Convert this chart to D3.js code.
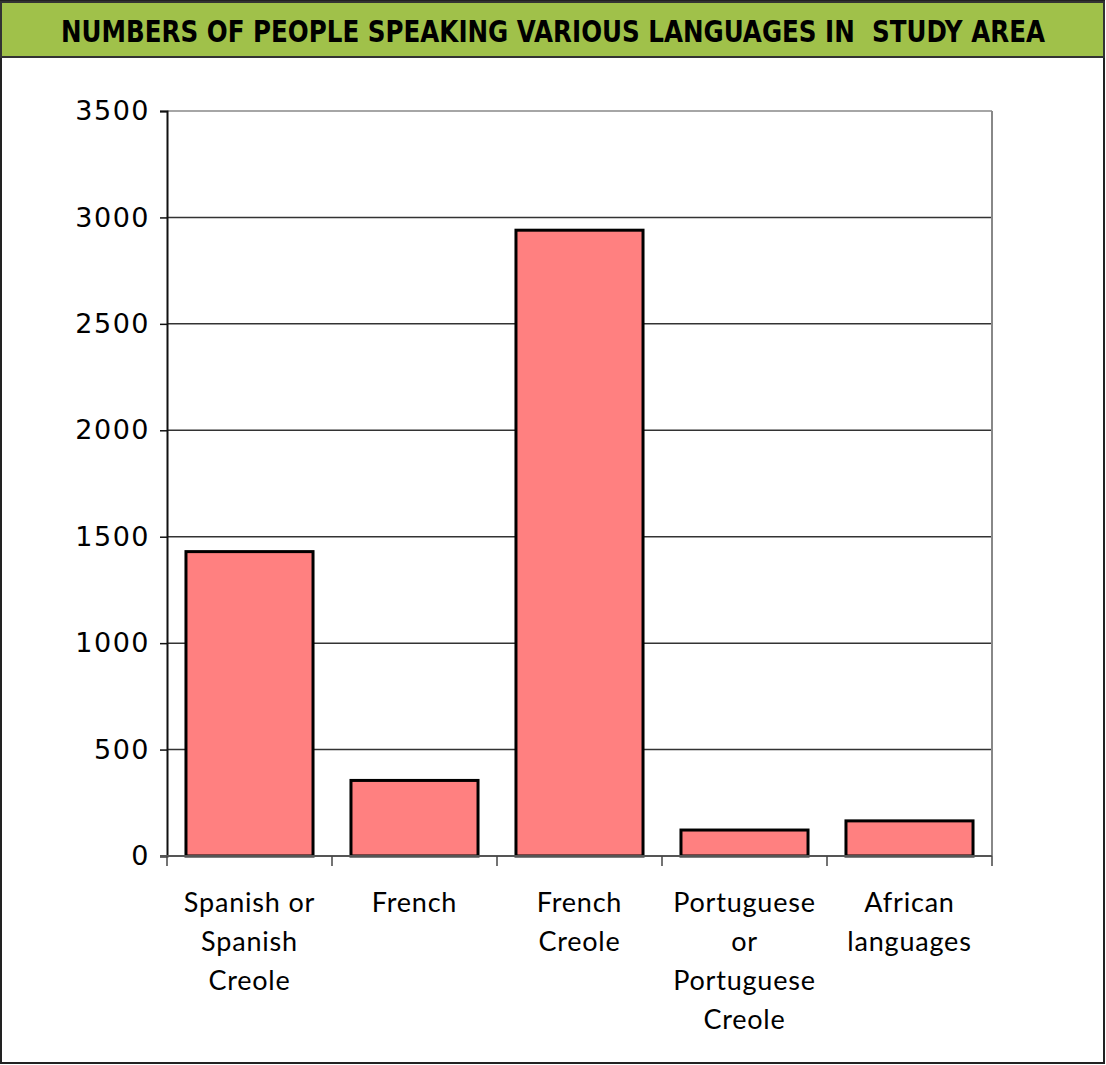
<!DOCTYPE html>
<html>
<head>
<meta charset="utf-8">
<script src="https://cdn.jsdelivr.net/npm/d3@7"></script>
<style>
  body { margin: 0; background: #fff; }
  svg { display: block; }
  text { font-family: "Lato", "DejaVu Sans", sans-serif; }
</style>
</head>
<body>
<script>
var categories = [
  ['Spanish or', 'Spanish', 'Creole'],
  ['French'],
  ['French', 'Creole'],
  ['Portuguese', 'or', 'Portuguese', 'Creole'],
  ['African', 'languages']
];
var values = [1430, 355, 2940, 122, 165];
var yTicks = [0, 500, 1000, 1500, 2000, 2500, 3000, 3500];
var title = 'NUMBERS OF PEOPLE SPEAKING VARIOUS LANGUAGES IN  STUDY AREA';

var width = 1106, height = 1065;
var margin = {left: 167, right: 114, top: 111, bottom: 209};

var svg = d3.select('body').append('svg')
  .attr('width', width)
  .attr('height', height);

// outer frame
svg.append('rect')
  .attr('x', 1).attr('y', 1)
  .attr('width', width - 3).attr('height', height - 3)
  .attr('fill', '#fff')
  .attr('stroke', '#222')
  .attr('stroke-width', 2);

// title bar
svg.append('rect')
  .attr('x', 1).attr('y', 2)
  .attr('width', width - 3).attr('height', 55)
  .attr('fill', '#a0c14a')
  .attr('stroke', '#333')
  .attr('stroke-width', 2);

// condensed bold title, stretched a little vertically
svg.append('text')
  .attr('transform', 'scale(1,1.2)')
  .attr('x', width / 2)
  .attr('y', 35)
  .attr('text-anchor', 'middle')
  .attr('font-size', 25)
  .attr('font-weight', 'bold')
  .attr('textLength', 984)
  .attr('lengthAdjust', 'spacingAndGlyphs')
  .style('font-family', '"DejaVu Sans Condensed", "DejaVu Sans", sans-serif')
  .style('white-space', 'pre')
  .text(title);

var x = d3.scaleBand()
  .domain(d3.range(categories.length))
  .range([margin.left, width - margin.right])
  .paddingInner(0.23)
  .paddingOuter(0.115);

var y = d3.scaleLinear()
  .domain([0, 3500])
  .range([height - margin.bottom, margin.top]);

var g = svg.append('g');

// gridlines
g.selectAll('line.grid')
  .data(yTicks.slice(1))
  .enter().append('line')
  .attr('class', 'grid')
  .attr('x1', margin.left)
  .attr('x2', width - margin.right)
  .attr('y1', d => y(d))
  .attr('y2', d => y(d))
  .attr('stroke', d => d === 3500 ? '#888' : '#333')
  .attr('stroke-width', 1.5);

// right border of plot
g.append('line')
  .attr('x1', width - margin.right).attr('x2', width - margin.right)
  .attr('y1', margin.top).attr('y2', y(0))
  .attr('stroke', '#888')
  .attr('stroke-width', 2);

// bars
g.selectAll('rect.bar')
  .data(values)
  .enter().append('rect')
  .attr('class', 'bar')
  .attr('x', (d, i) => x(i))
  .attr('y', d => y(d))
  .attr('width', x.bandwidth())
  .attr('height', d => y(0) - y(d))
  .attr('fill', '#ff8080')
  .attr('stroke', '#000')
  .attr('stroke-width', 3);

// y axis
var yAxis = d3.axisLeft(y)
  .tickValues(yTicks)
  .tickSize(7)
  .tickPadding(10)
  .tickFormat(d3.format('d'));

var ya = svg.append('g')
  .attr('transform', `translate(${margin.left},0)`)
  .call(yAxis);
ya.select('.domain').attr('stroke', '#111').attr('stroke-width', 2);
ya.selectAll('.tick line').attr('stroke', '#111').attr('stroke-width', 1.5);
ya.selectAll('.tick text')
  .attr('font-size', 27)
  .attr('fill', '#000')
  .attr('letter-spacing', 1.5)
  .style('font-family', '"DejaVu Sans", sans-serif');

// x axis with ticks at band boundaries
var xa = svg.append('g')
  .attr('transform', `translate(0,${y(0)})`);
xa.append('line')
  .attr('x1', margin.left - 7).attr('x2', width - margin.right)
  .attr('y1', 0).attr('y2', 0)
  .attr('stroke', '#555')
  .attr('stroke-width', 2);
var bounds = d3.range(categories.length + 1).map(i => margin.left + i * x.step());
xa.selectAll('line.xt')
  .data(bounds)
  .enter().append('line')
  .attr('class', 'xt')
  .attr('x1', d => d).attr('x2', d => d)
  .attr('y1', 0).attr('y2', 10)
  .attr('stroke', '#444')
  .attr('stroke-width', 1.5);

// category labels
var lab = xa.selectAll('text.cat')
  .data(categories)
  .enter().append('text')
  .attr('class', 'cat')
  .attr('x', (d, i) => x(i) + x.bandwidth() / 2)
  .attr('y', 56)
  .attr('text-anchor', 'middle')
  .attr('font-size', 27)
  .attr('letter-spacing', 0.8);
lab.selectAll('tspan')
  .data(d => d)
  .enter().append('tspan')
  .attr('x', function() { return d3.select(this.parentNode).attr('x'); })
  .attr('dy', (d, i) => i === 0 ? 0 : 39)
  .text(d => d);
</script>
</body>
</html>
